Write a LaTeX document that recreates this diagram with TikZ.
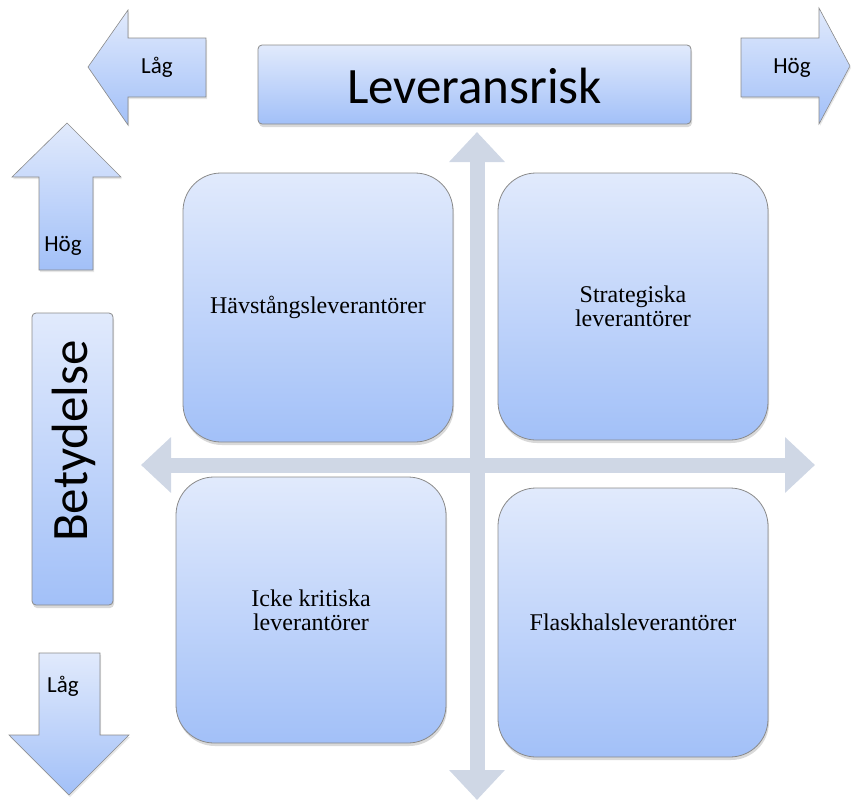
\documentclass[tikz,border=0pt]{standalone}
\usepackage{fontspec}
\setmainfont{Liberation Serif}
\newfontfamily\labelfont{Carlito}
\usetikzlibrary{arrows.meta,shadows}
\definecolor{boxtop}{HTML}{E1EAFC}
\definecolor{boxbot}{HTML}{A2C0F8}
\definecolor{axisgray}{HTML}{CFD7E5}
\definecolor{edgegray}{HTML}{8A8A8A}
\begin{document}
\begin{tikzpicture}[x=1pt,y=-1pt,
    quad/.style={draw=edgegray,line width=0.8pt,rounded corners=38pt,
      top color=boxtop,bottom color=boxbot,
      drop shadow={opacity=0.3,shadow xshift=1pt,shadow yshift=-3pt},
      minimum width=270pt,align=center,inner sep=0pt,
      font=\fontsize{24}{24}\selectfont},
    titlebox/.style={draw=edgegray,line width=0.8pt,rounded corners=4pt,
      top color=boxtop,bottom color=boxbot,inner sep=0pt,
      drop shadow={opacity=0.3,shadow xshift=1pt,shadow yshift=-3pt}},
    blockarrow/.style={draw=edgegray,line width=0.6pt,
      top color=boxtop,bottom color=boxbot,
      drop shadow={opacity=0.2,shadow xshift=1pt,shadow yshift=-2pt}},
    sidelabel/.style={font=\labelfont\fontsize{23}{23}\selectfont,inner sep=0pt},
    biglabel/.style={font=\labelfont\fontsize{51}{51}\selectfont,inner sep=0pt},
    axis/.style={axisgray,line width=15pt,
      {Triangle[width=54pt,length=30pt]}-{Triangle[width=54pt,length=30pt]}}]
  \useasboundingbox (0,0) rectangle (852,803);
  % axes
  \coordinate (ytop) at (477,132);
  \coordinate (ybot) at (477,800);
  \coordinate (xleft) at (141,465);
  \coordinate (xright) at (815,465);
  \draw[axis] (ybot) -- (ytop);
  \draw[axis] (xleft) -- (xright);
  % block arrows
  \draw[blockarrow] (88,67) -- (128,10) -- (128,38) -- (206,38) -- (206,97)
    -- (128,97) -- (128,125) -- cycle;
  \draw[blockarrow] (850,66) -- (819,8) -- (819,38) -- (741,38) -- (741,97)
    -- (819,97) -- (819,124) -- cycle;
  \draw[blockarrow] (67,123) -- (121,177) -- (93,177) -- (93,270) -- (39,270)
    -- (39,177) -- (12,177) -- cycle;
  \draw[blockarrow] (69,795) -- (129,735) -- (100,735) -- (100,653) -- (39,653)
    -- (39,735) -- (9,735) -- cycle;
  \node[sidelabel] (riskl) at (157,67) {Låg};
  \node[sidelabel] (riskh) at (792,68) {Hög};
  \node[sidelabel] (betyh) at (63,246) {Hög};
  \node[sidelabel] (betyl) at (63,686) {Låg};
  % titles
  \node[titlebox,minimum width=433pt,minimum height=79pt] (risk) at (474.5,84.5) {};
  \node[biglabel] (risktxt) at (474.5,86) {Leveransrisk};
  \node[titlebox,minimum width=81pt,minimum height=292pt] (betyd) at (72.5,459) {};
  \node[biglabel,rotate=90] (betydtxt) at (74,441) {Betydelse};
  % quadrants
  \node[quad,minimum height=269pt] (havst) at (318,307.5) {Hävstångsleverantörer};
  \node[quad,minimum height=267pt] (strat) at (633,306.5) {Strategiska\\leverantörer};
  \node[quad,minimum height=266pt] (ickekrit) at (311,610) {Icke kritiska\\leverantörer};
  \node[quad,minimum height=269pt] (flaskh) at (633,622.5) {Flaskhalsleverantörer};
\end{tikzpicture}
\end{document}
